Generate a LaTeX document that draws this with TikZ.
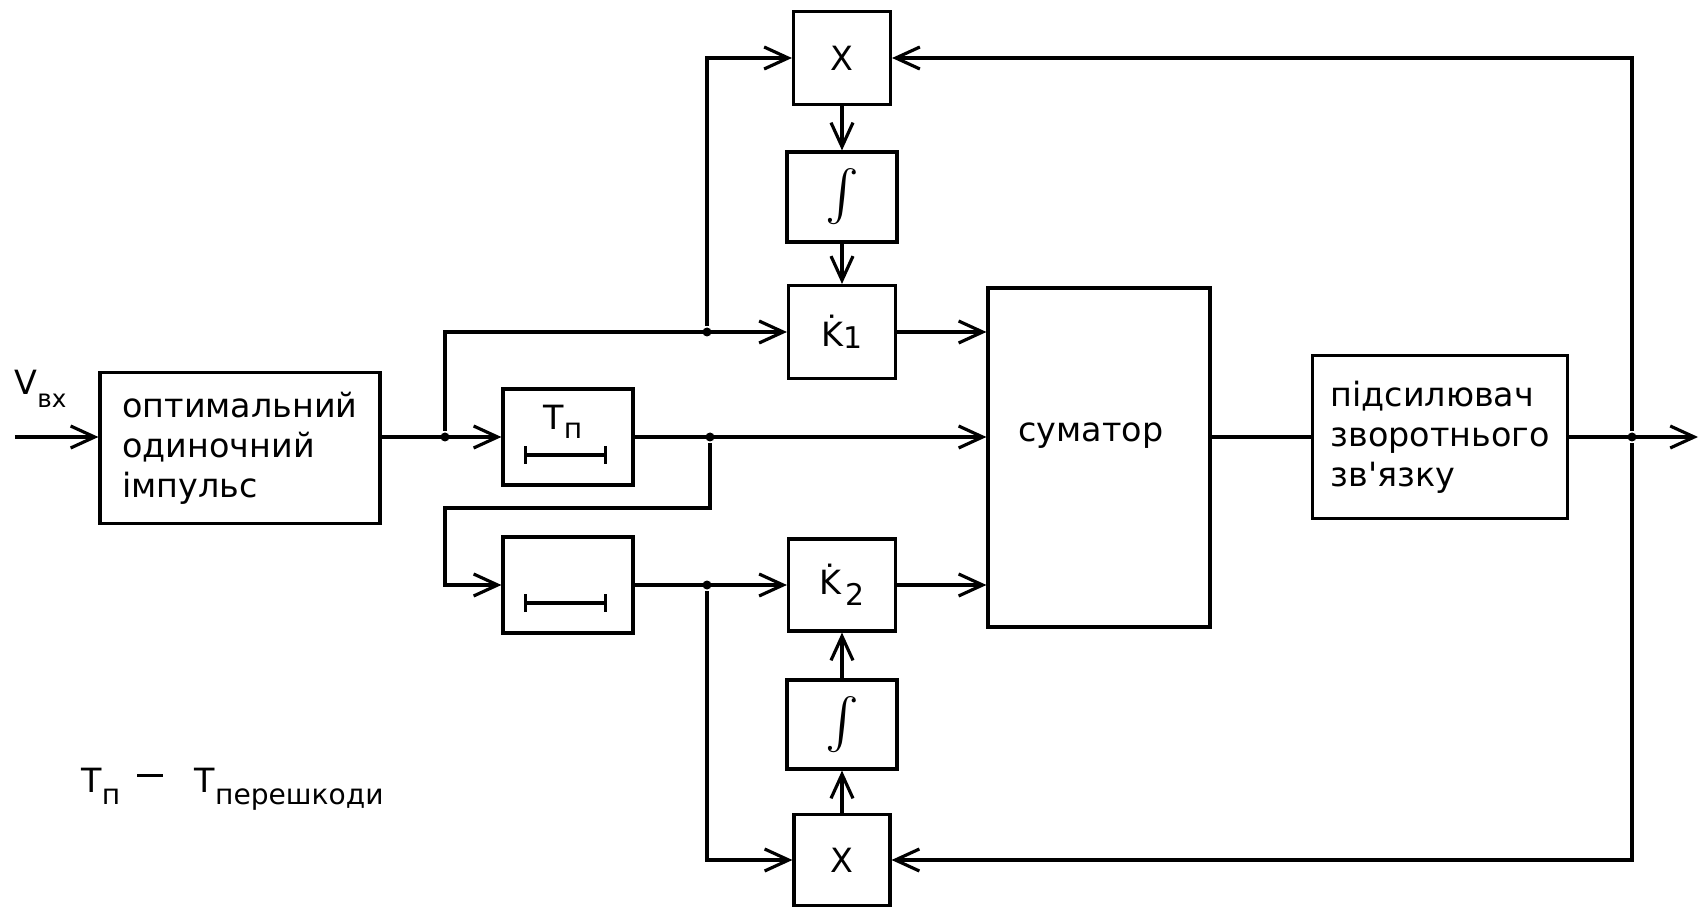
\documentclass[tikz,border=0pt]{standalone}
\usepackage{exscale}
\usepackage{fontspec}
\setmainfont{DejaVu Sans}[Ligatures=TeXOff]
\usetikzlibrary{arrows.meta}
\newcommand\lowsub[2][2.3pt]{\raisebox{-#1}{\fontsize{8}{8}\selectfont #2}}
\newcommand\intsym{{\fontsize{14}{14}\selectfont$\int$}}

\begin{document}
\begin{tikzpicture}[
  line width=0.9pt,
  blk/.style={draw, inner sep=0pt, font=\fontsize{9.5}{11.4}\selectfont, align=left},
  sym/.style={inner sep=0pt, font=\fontsize{9.5}{11.4}\selectfont},
  jn/.style={circle, fill, inner sep=0pt, minimum size=0.9mm},
  arr/.style={-{Straight Barb[length=2.4mm, width=2.2mm]}},
  span/.style={{Bar[width=1.8mm]}-{Bar[width=1.8mm]}},
]
\useasboundingbox (0,0) rectangle (17,-9.07);

% ---------------- blocks ----------------
\node[blk, minimum width=2.80cm, minimum height=1.51cm] (opt) at (2.40,-4.48)
  {оптимальний\\одиночний\\імпульс};
\node[blk, minimum width=1.30cm, minimum height=0.96cm] (tp) at (5.68,-4.37) {};
\node[blk, minimum width=1.30cm, minimum height=0.96cm] (dl) at (5.68,-5.85) {};
\node[blk, minimum width=0.97cm, minimum height=0.93cm] (xa) at (8.42,-0.58) {X};
\node[blk, minimum width=1.10cm, minimum height=0.90cm] (ia) at (8.42,-1.97) {\intsym};
\node[blk, minimum width=1.07cm, minimum height=0.93cm] (ka) at (8.42,-3.32)
  {\.K\lowsub[0.7pt]{\fontsize{8.5}{8.5}\selectfont 1}};
\node[blk, minimum width=1.07cm, minimum height=0.92cm] (kb) at (8.42,-5.85)
  {\.K\lowsub[3.2pt]{\fontsize{8.5}{8.5}\selectfont\,2}};
\node[blk, minimum width=1.10cm, minimum height=0.89cm] (ib) at (8.42,-7.245) {\intsym};
\node[blk, minimum width=0.96cm, minimum height=0.91cm] (xb) at (8.42,-8.60) {X};
\node[blk, minimum width=2.22cm, minimum height=3.39cm] (sum) at (10.99,-4.575) {};
\node[blk, minimum width=2.55cm, minimum height=1.63cm] (amp) at (14.40,-4.37)
  {підсилювач\\зворотнього\\зв'язку};

% ---------------- texts ----------------
\node[sym] (sumt) at (10.91,-4.36) {суматор};
\node[sym, anchor=base west] (tpt) at ([xshift=-2.6mm, yshift=0.7mm]tp.center) {T\lowsub{п}};
\node[sym, anchor=base west] (vin) at (0.13,-3.95) {V\lowsub[3.6pt]{\fontsize{7}{7}\selectfont вх}};
\node[sym, anchor=base west] (leg) at (0.80,-7.92)
  {T\lowsub[3.6pt]{п}\hspace{0.5em}\rule[4.2pt]{0.26cm}{0.9pt}\hspace{0.95em}T\lowsub[3.6pt]{перешкоди}};

% delay marks
\draw[span] ([xshift=-4.4mm, yshift=-1.8mm]tp.center) -- ([xshift=3.9mm, yshift=-1.8mm]tp.center);
\draw[span] ([xshift=-4.4mm, yshift=-1.8mm]dl.center) -- ([xshift=3.9mm, yshift=-1.8mm]dl.center);

% ---------------- junctions ----------------
\node[jn] (j1) at (4.45,-4.37) {};
\node[jn] (j2) at (7.10,-4.37) {};
\node[jn] (j3) at (7.07,-5.85) {};
\node[jn] (j4) at (7.07,-3.32) {};
\node[jn] (j5) at (16.32,-4.37) {};
\coordinate (in)  at (0.15,-4.37);
\coordinate (out) at (16.98,-4.37);
\coordinate (c2)  at (4.45,-5.08);

% ---------------- connectors ----------------
\draw[arr] (in) -- (opt.west |- in);
\draw[arr] (opt.east |- j1) -- (tp.west);
\draw[arr] (j1) |- (ka.west);
\draw[arr] (j4) |- (xa.west);
\draw[arr] (tp.east) -- (tp.east -| sum.west);
\draw[arr] (j2) |- (c2) |- (dl.west);
\draw[arr] (dl.east) -- (kb.west);
\draw[arr] (j3) |- (xb.west);
\draw[arr] (xa) -- (ia);
\draw[arr] (ia) -- (ka);
\draw[arr] (xb) -- (ib);
\draw[arr] (ib) -- (kb);
\draw[arr] (ka.east) -- (ka.east -| sum.west);
\draw[arr] (kb.east) -- (kb.east -| sum.west);
\draw (sum.east |- amp) -- (amp.west);
\draw[arr] (amp.east) -- (out);
\draw[arr] (j5) |- (xa.east);
\draw[arr] (j5) |- (xb.east);

\end{tikzpicture}
\end{document}
